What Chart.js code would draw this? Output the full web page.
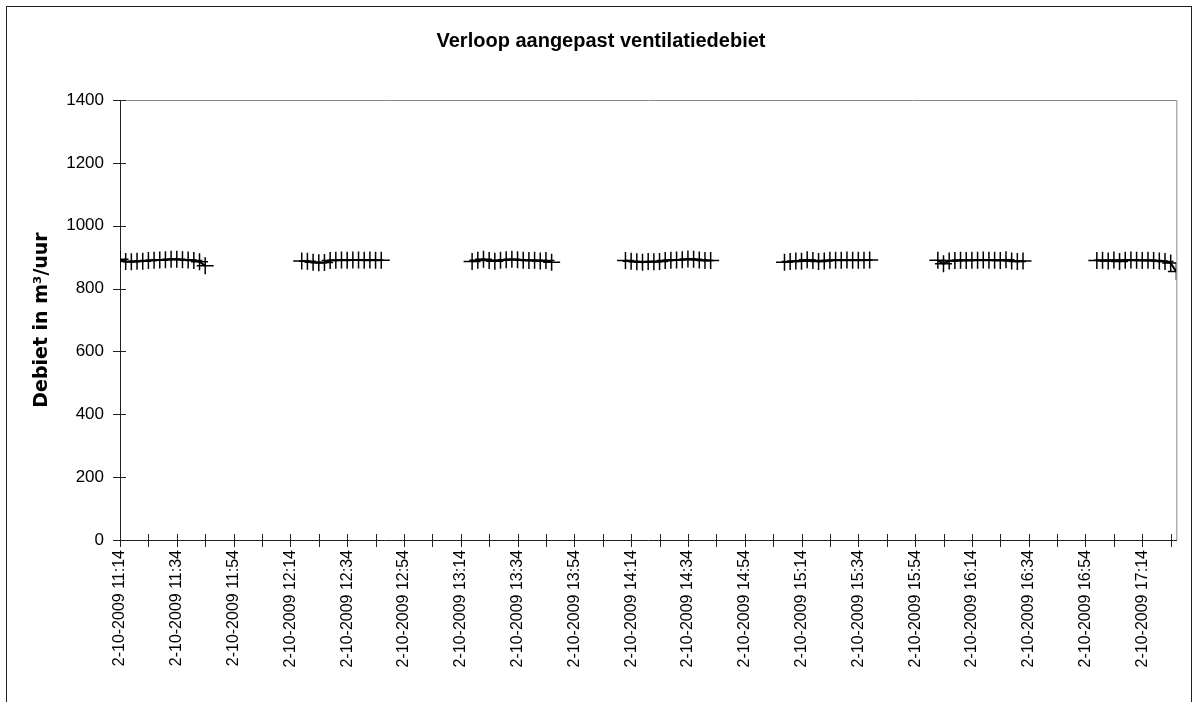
<!DOCTYPE html>
<html>
<head>
<meta charset="utf-8">
<title>Verloop aangepast ventilatiedebiet</title>
<script src="https://cdn.jsdelivr.net/npm/chart.js@4.4.1/dist/chart.umd.min.js"></script>
<style>
  html, body { margin: 0; padding: 0; background: #fff; overflow: hidden; }
  #kader { position: absolute; left: 6px; top: 6px; width: 1184px; height: 760px; border: 1px solid #222; }
  #wrap { position: absolute; left: 0; top: 0; width: 1200px; height: 702px; }
</style>
</head>
<body>
<div id="kader"></div>
<div id="wrap"><canvas id="grafiek" width="1200" height="702"></canvas></div>
<script>
// Meetdatum en meetblokken (tijdstip, debiet in m3/uur)
const meetDatum = '2-10-2009';
const startTijd = '11:14';
const eindTijd = '17:26';

const tijdenBlok1 = ['11:14','11:16','11:18','11:20','11:22','11:24','11:26','11:28','11:30','11:32','11:34','11:36','11:38','11:40','11:42','11:44'];
const debietBlok1 = [893, 886, 885, 887, 887, 889, 890, 891, 892, 893, 893, 892, 891, 889, 885, 873];

const tijdenBlok2 = ['12:18','12:20','12:22','12:24','12:26','12:28','12:30','12:32','12:34','12:36','12:38','12:40','12:42','12:44','12:46'];
const debietBlok2 = [888, 887, 884, 882, 883, 889, 890, 891, 890, 891, 891, 890, 891, 890, 890];

const tijdenBlok3 = ['13:18','13:20','13:22','13:24','13:26','13:28','13:30','13:32','13:34','13:36','13:38','13:40','13:42','13:44','13:46'];
const debietBlok3 = [886, 890, 893, 889, 887, 890, 892, 893, 892, 890, 889, 890, 888, 889, 884];

const tijdenBlok4 = ['14:12','14:14','14:16','14:18','14:20','14:22','14:24','14:26','14:28','14:30','14:32','14:34','14:36','14:38','14:40','14:42'];
const debietBlok4 = [889, 887, 885, 884, 886, 885, 886, 889, 890, 891, 892, 894, 893, 891, 889, 889];

const tijdenBlok5 = ['15:08','15:10','15:12','15:14','15:16','15:18','15:20','15:22','15:24','15:26','15:28','15:30','15:32','15:34','15:36','15:38'];
const debietBlok5 = [884, 886, 888, 887, 892, 889, 886, 888, 890, 890, 890, 891, 890, 890, 890, 891];

const tijdenBlok6 = ['16:02','16:04','16:06','16:08','16:10','16:12','16:14','16:16','16:18','16:20','16:22','16:24','16:26','16:28','16:30','16:32'];
const debietBlok6 = [890, 879, 888, 889, 890, 889, 890, 890, 891, 890, 890, 889, 892, 888, 886, 888];

const tijdenBlok7 = ['16:58','17:00','17:02','17:04','17:06','17:08','17:10','17:12','17:14','17:16','17:18','17:20','17:22','17:24','17:26'];
const debietBlok7 = [889, 890, 888, 891, 886, 890, 891, 890, 889, 890, 889, 888, 886, 881, 854];

// Tijdas: streepjes om de 10 minuten, een label om de 20 minuten
const asTijden = ['11:14','11:24','11:34','11:44','11:54','12:04','12:14','12:24','12:34','12:44','12:54','13:04','13:14','13:24','13:34','13:44','13:54','14:04','14:14','14:24','14:34','14:44','14:54','15:04','15:14','15:24','15:34','15:44','15:54','16:04','16:14','16:24','16:34','16:44','16:54','17:04','17:14','17:24'];
const asLabels = ['11:14','11:34','11:54','12:14','12:34','12:54','13:14','13:34','13:54','14:14','14:34','14:54','15:14','15:34','15:54','16:14','16:34','16:54','17:14'];

const yTicks = [0, 200, 400, 600, 800, 1000, 1200, 1400];

function minuten(t) {
  const [h, m] = t.split(':').map(Number);
  const [h0, m0] = startTijd.split(':').map(Number);
  return (h * 60 + m) - (h0 * 60 + m0);
}

// Blokken samenvoegen; tussen twee blokken een lege waarde zodat de lijn onderbroken wordt
const blokken = [
  [tijdenBlok1, debietBlok1], [tijdenBlok2, debietBlok2], [tijdenBlok3, debietBlok3],
  [tijdenBlok4, debietBlok4], [tijdenBlok5, debietBlok5], [tijdenBlok6, debietBlok6],
  [tijdenBlok7, debietBlok7]
];
const punten = [];
blokken.forEach(([tijden, waarden], b) => {
  if (b > 0) {
    const vorige = punten[punten.length - 1].x;
    punten.push({ x: (vorige + minuten(tijden[0])) / 2, y: null });
  }
  tijden.forEach((t, i) => punten.push({ x: minuten(t), y: waarden[i] }));
});

// Kruisende maatstreepjes op beide assen en grijze rand boven/rechts
const asPlugin = {
  id: 'asStreepjes',
  afterDraw(chart) {
    const ctx = chart.ctx;
    const a = chart.chartArea;
    ctx.save();
    ctx.strokeStyle = '#8a8a8a';
    ctx.lineWidth = 1;
    ctx.beginPath();
    ctx.moveTo(a.left, a.top + 0.5);
    ctx.lineTo(a.right + 0.5, a.top + 0.5);
    ctx.lineTo(a.right + 0.5, a.bottom);
    ctx.stroke();

    ctx.strokeStyle = '#222';
    ctx.lineWidth = 1;
    const xs = chart.scales.x, ys = chart.scales.y;
    ctx.beginPath();
    xs.ticks.forEach((tk, i) => {
      const px = Math.round(xs.getPixelForTick(i)) + 0.5;
      ctx.moveTo(px, a.bottom - 6);
      ctx.lineTo(px, a.bottom + 7);
    });
    ys.ticks.forEach((tk, i) => {
      const py = Math.round(ys.getPixelForTick(i)) + 0.5;
      ctx.moveTo(a.left - 7, py);
      ctx.lineTo(a.left + 6, py);
    });
    ctx.stroke();
    ctx.restore();
  }
};

const ctx = document.getElementById('grafiek').getContext('2d');
new Chart(ctx, {
  type: 'line',
  data: {
    datasets: [{
      label: 'Debiet',
      data: punten,
      borderColor: '#000',
      borderWidth: 2,
      tension: 0,
      spanGaps: false,
      pointStyle: 'cross',
      pointRadius: 8.5,
      pointBorderWidth: 1.5,
      pointBorderColor: '#000',
      pointBackgroundColor: '#000'
    }]
  },
  options: {
    responsive: false,
    animation: false,
    layout: { padding: { left: 25, right: 23, top: 0, bottom: 0 } },
    plugins: {
      legend: { display: false },
      tooltip: { enabled: false },
      title: {
        display: true,
        text: 'Verloop aangepast ventilatiedebiet',
        color: '#000',
        font: { family: 'Liberation Sans', size: 20, weight: 'bold', lineHeight: 1.2 },
        padding: { top: 29, bottom: 47 }
      }
    },
    scales: {
      x: {
        type: 'linear',
        bounds: 'data',
        min: minuten(startTijd),
        max: minuten(eindTijd),
        afterFit(scale) { scale.height = 162; },
        afterBuildTicks(scale) { scale.ticks = asTijden.map(t => ({ value: minuten(t) })); },
        grid: { display: true, drawOnChartArea: false, drawTicks: false },
        border: { display: true, color: '#222', width: 1 },
        ticks: {
          autoSkip: false,
          minRotation: 90,
          maxRotation: 90,
          padding: 10,
          color: '#000',
          font: { family: 'Liberation Sans', size: 16 },
          callback(value) {
            const t = asTijden.find(s => minuten(s) === value);
            return (t && asLabels.includes(t)) ? meetDatum + ' ' + t : '';
          }
        }
      },
      y: {
        min: 0,
        max: 1400,
        afterFit(scale) { scale.width = 95; },
        afterBuildTicks(scale) { scale.ticks = yTicks.map(v => ({ value: v })); },
        grid: { display: true, drawOnChartArea: false, drawTicks: false },
        border: { display: true, color: '#222', width: 1 },
        ticks: {
          padding: 16,
          color: '#000',
          font: { family: 'Liberation Sans', size: 17 },
          callback(value) { return String(value); }
        },
        title: {
          display: true,
          text: 'Debiet in m³/uur',
          color: '#000',
          font: { family: 'DejaVu Sans', size: 19, weight: 'bold', lineHeight: 1.2 },
          padding: { top: 5.6, bottom: 0 }
        }
      }
    }
  },
  plugins: [asPlugin]
});
</script>
</body>
</html>
